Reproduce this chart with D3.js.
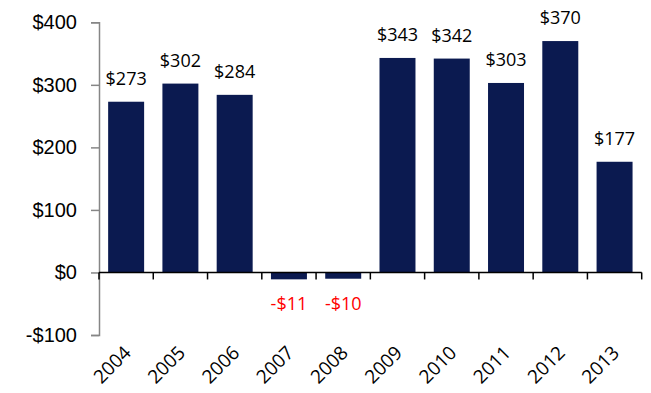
<!DOCTYPE html>
<html>
<head>
<meta charset="utf-8">
<script src="https://cdn.jsdelivr.net/npm/d3@7"></script>
<style>
  html, body { margin: 0; padding: 0; background: #fff; }
  svg { display: block; font-family: "Open Sans", "Noto Sans", sans-serif; }
</style>
</head>
<body>
<svg id="chart" width="651" height="393"></svg>
<script>
const years = ["2004", "2005", "2006", "2007", "2008", "2009", "2010", "2011", "2012", "2013"];
const values = [273, 302, 284, -11, -10, 343, 342, 303, 370, 177];
const yTicks = [-100, 0, 100, 200, 300, 400];

const svg = d3.select("#chart");
const plotLeft = 99, plotRight = 641.7, plotTop = 22.3, plotBottom = 335;

const x = d3.scaleBand().domain(years).range([plotLeft, plotRight])
  .paddingInner(0.337).paddingOuter(0.1685);
const y = d3.scaleLinear().domain([-100, 400]).range([plotBottom, plotTop]);

const fmt = v => (v < 0 ? "-$" : "$") + Math.abs(v);

// bars
svg.append("g").selectAll("rect").data(values).join("rect")
  .attr("x", (d, i) => x(years[i]))
  .attr("width", x.bandwidth())
  .attr("y", d => y(Math.max(0, d)))
  .attr("height", d => Math.abs(y(d) - y(0)))
  .attr("fill", "#0b1a50");

// y axis
const yAxis = svg.append("g").attr("transform", `translate(${plotLeft},0)`)
  .call(d3.axisLeft(y).tickValues(yTicks).tickFormat(fmt).tickSize(8).tickPadding(14));
yAxis.select(".domain").attr("stroke", "#868686").attr("stroke-width", 1.5);
yAxis.selectAll(".tick line").attr("stroke", "#868686").attr("stroke-width", 1.5);
yAxis.selectAll(".tick text").attr("font-size", 20).attr("fill", "#000");

// x axis along zero, ticks at category boundaries
const step = x.step();
const boundaries = d3.range(years.length + 1).map(i => plotLeft + i * step);
const xg = svg.append("g");
xg.append("line").attr("x1", plotLeft).attr("x2", plotRight)
  .attr("y1", y(0)).attr("y2", y(0)).attr("stroke", "#000").attr("stroke-width", 1.5);
xg.selectAll("line.tk").data(boundaries).join("line").attr("class", "tk")
  .attr("x1", d => d).attr("x2", d => d)
  .attr("y1", y(0)).attr("y2", y(0) + 7).attr("stroke", "#000").attr("stroke-width", 1.5);

// category labels, rotated
svg.append("g").selectAll("text").data(years).join("text")
  .attr("transform", d => `translate(${x(d) + x.bandwidth() / 2 + 6},${354}) rotate(-45)`)
  .attr("text-anchor", "end")
  .attr("font-size", 19)
  .attr("fill", "#000")
  .text(d => d);

// value labels
svg.append("g").selectAll("text").data(values).join("text")
  .attr("x", (d, i) => x(years[i]) + x.bandwidth() / 2)
  .attr("y", d => d >= 0 ? y(d) - 17 : y(d) + 31)
  .attr("text-anchor", "middle")
  .attr("font-size", 18)
  .attr("fill", d => d >= 0 ? "#000" : "#ff0000")
  .text(fmt);
</script>
</body>
</html>
